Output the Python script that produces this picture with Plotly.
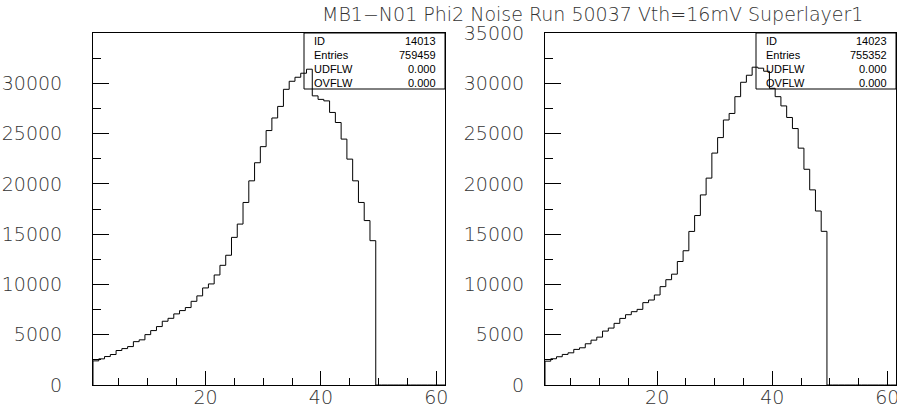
import plotly.graph_objects as go

W, H = 897, 416

# ---- data ----
bins = list(range(1, 62))  # bin centres, unit width, range 0.5..61.5
counts_l = [2400, 2600, 2830, 3030, 3430, 3620, 3820, 4310, 4490, 5010,
            5410, 5810, 6340, 6630, 7070, 7400, 7700, 8320, 8860, 9650,
            10050, 10940, 11900, 12900, 14680, 16000, 18150, 20300, 22100, 23700,
            25300, 26550, 27700, 29400, 30200, 30600, 31000, 31400, 28750, 28400,
            28250, 27100, 26100, 24450, 22460, 20300, 18150, 16350, 14350,
            0, 0, 0, 0, 0, 0, 0, 0, 0, 0, 0, 0]
counts_r = [2370, 2610, 2810, 3040, 3200, 3540, 3700, 4100, 4460, 4760,
            5360, 5660, 6130, 6620, 6990, 7290, 7520, 8190, 8450, 8950,
            9780, 10470, 11020, 12280, 13350, 15270, 16850, 18900, 20570, 23060,
            24600, 26350, 27000, 28670, 30100, 30800, 31600, 31500, 31200, 29500,
            28670, 27750, 26600, 25500, 23550, 21450, 19400, 17300, 15280,
            0, 0, 0, 0, 0, 0, 0, 0, 0, 0, 0, 0]
stats_labels = ["ID", "Entries", "UDFLW", "OVFLW"]
stats_l = ["14013", "759459", "0.000", "0.000"]
stats_r = ["14023", "755352", "0.000", "0.000"]
title = "MB1\u2212N01 Phi2 Noise Run 50037 Vth=16mV Superlayer1"
x_ticks = [20, 40, 60]
y_ticks_l = [0, 5000, 10000, 15000, 20000, 25000, 30000]
y_ticks_r = [0, 5000, 10000, 15000, 20000, 25000, 30000, 35000]


def px(x):
    return x / W


def py(y):
    return 1 - y / H


def step_xy(centres, vals):
    xs = [centres[0] - 0.5]
    ys = [0]
    for c, v in zip(centres, vals):
        xs.append(c - 0.5)
        ys.append(v)
    xs.append(centres[-1] + 0.5)
    ys.append(0)
    return xs, ys


FONT = "DejaVu Sans"
TXT = "#333333"
LBL = dict(family=FONT, size=19, color=TXT, weight=200)

fig = go.Figure()
for vals, xa, ya in [(counts_l, "x", "y"), (counts_r, "x2", "y2")]:
    xs, ys = step_xy(bins, vals)
    fig.add_trace(go.Scatter(x=xs, y=ys, mode="lines", line=dict(color="black", width=1, shape="hv"),
                             xaxis=xa, yaxis=ya, showlegend=False, hoverinfo="skip"))

frame_top, frame_bot = 33, 385

common_x = dict(range=[0.5, 61.5], tickmode="array", tickvals=x_ticks, ticks="inside", ticklen=14,
                tickcolor="black", showline=True, linecolor="black", linewidth=1, mirror=True,
                showgrid=False, zeroline=False, automargin=False, ticklabeloverflow="allow",
                minor=dict(tickvals=[5, 10, 15, 25, 30, 35, 45, 50, 55], ticks="inside", ticklen=7,
                           tickcolor="black", showgrid=False),
                tickfont=LBL, ticklabelstandoff=-5)
common_y = dict(range=[0, 35000], tickmode="array", ticks="inside", ticklen=16,
                tickcolor="black", showline=True, linecolor="black", linewidth=1, mirror=True,
                showgrid=False, zeroline=False, automargin=False, ticklabeloverflow="allow",
                minor=dict(tickvals=[2500, 7500, 12500, 17500, 22500, 27500, 32500], ticks="inside",
                           ticklen=8, tickcolor="black", showgrid=False),
                tickfont=LBL)

fig.update_layout(
    width=W, height=H, margin=dict(l=0, r=0, t=0, b=0, autoexpand=False),
    paper_bgcolor="white", plot_bgcolor="white",
    xaxis=dict(domain=[px(93), px(445)], anchor="y", **common_x),
    yaxis=dict(domain=[py(frame_bot), py(frame_top)], anchor="x", tickvals=y_ticks_l,
               ticktext=[str(v) for v in y_ticks_l], ticklabelstandoff=26, **common_y),
    xaxis2=dict(domain=[px(545), px(896)], anchor="y2", **common_x),
    yaxis2=dict(domain=[py(frame_bot), py(frame_top)], anchor="x2", tickvals=y_ticks_r,
                ticktext=[str(v) for v in y_ticks_r], ticklabelstandoff=16, **common_y),
)

fig.add_annotation(text=title, x=px(592), y=py(14), xref="paper", yref="paper", showarrow=False,
                   font=dict(family=FONT, size=19, color=TXT, weight=200),
                   xanchor="center", yanchor="middle")

row_y = [41, 55, 69, 83]
for right, box_left, vals in [(445, 304, stats_l), (896, 756, stats_r)]:
    fig.add_shape(type="rect", xref="paper", yref="paper", x0=px(box_left), x1=px(right),
                  y0=py(89), y1=py(frame_top), line=dict(color="black", width=1),
                  fillcolor="rgba(0,0,0,0)")
    for lab, val, ry in zip(stats_labels, vals, row_y):
        fig.add_annotation(text=lab, x=px(box_left + 8), y=py(ry), xref="paper", yref="paper",
                           showarrow=False, xanchor="left", yanchor="middle",
                           font=dict(family="Liberation Sans", size=11, color="black"))
        fig.add_annotation(text=val, x=px(right - 7), y=py(ry), xref="paper", yref="paper",
                           showarrow=False, xanchor="right", yanchor="middle",
                           font=dict(family="Liberation Sans", size=11, color="black"))

fig.write_html("out.html")
